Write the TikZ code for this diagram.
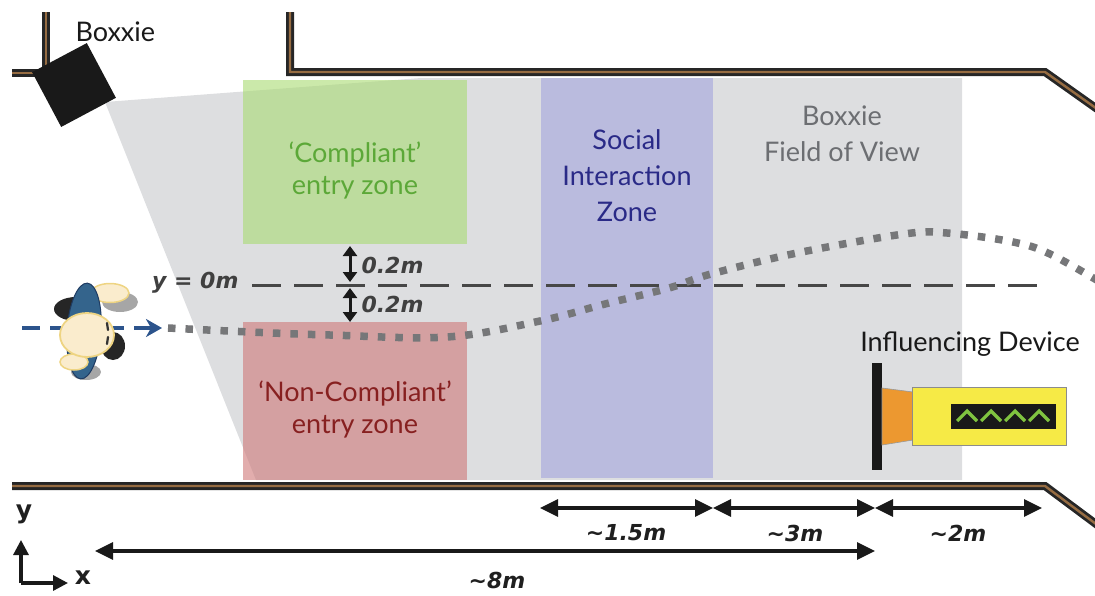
\documentclass[tikz,border=0pt]{standalone}
\usepackage{fontspec}
\setmainfont{Lato}
\newfontfamily\dimfont{DejaVu Sans}
\usetikzlibrary{arrows.meta}
\definecolor{fovgray}{RGB}{221,222,224}
\definecolor{wallbrown}{RGB}{150,108,66}
\definecolor{zgreen}{RGB}{169,219,114}
\definecolor{zpink}{RGB}{206,119,119}
\definecolor{zblue}{RGB}{163,164,221}
\definecolor{tgreen}{RGB}{92,168,56}
\definecolor{tred}{RGB}{135,32,32}
\definecolor{tblue}{RGB}{42,42,135}
\definecolor{tgray}{RGB}{108,110,114}
\definecolor{pathgray}{RGB}{118,119,121}
\definecolor{walkblue}{RGB}{44,84,140}
\definecolor{bodyblue}{RGB}{52,100,140}
\definecolor{skin}{RGB}{250,236,205}
\definecolor{skinedge}{RGB}{238,212,130}
\definecolor{devyellow}{RGB}{246,234,70}
\definecolor{devorange}{RGB}{236,152,48}
\definecolor{chevgreen}{RGB}{128,196,64}
\tikzset{
  wall/.style={draw=black!85, line width=2.8pt, double=wallbrown, double distance=2.4pt, line join=miter},
  zone/.style={fill opacity=0.6},
  zonetext/.style={font=\fontsize{27}{32}\selectfont, align=center},
  plain/.style={font=\fontsize{27}{32}\selectfont, text=black!90},
  dimtext/.style={font=\dimfont\fontsize{22}{25}\selectfont\bfseries\itshape, text=black!88},
  dimarrow/.style={line width=3.2pt, black!90, {Triangle[length=18pt,width=17pt]}-{Triangle[length=18pt,width=17pt]}},
  gaparrow/.style={line width=3pt, black!90, {Triangle[length=10pt,width=14pt]}-{Triangle[length=10pt,width=14pt]}},
  axisarrow/.style={line width=3.2pt, black!90, -{Triangle[length=15pt,width=15pt]}},
  axislabel/.style={font=\dimfont\fontsize{25}{28}\selectfont\bfseries, text=black!88},
}
\begin{document}
\begin{tikzpicture}[x=1pt,y=-1pt]
\useasboundingbox (0,0) rectangle (1095,595);

% camera field of view
\fill[fovgray] (105,102) -- (421,78) -- (962,78) -- (962,480) -- (256,480) -- cycle;

% zones
\fill[zgreen, zone] (243,80) rectangle (467,244);
\fill[zpink, zone] (243,322) rectangle (467,480);
\fill[zblue, zone] (541,78) rectangle (713,478);

\node[zonetext, text=tgreen] (compl) at (355,170) {‘Compliant’\\entry zone};
\node[zonetext, text=tred] (noncompl) at (355,409) {‘Non-Compliant’\\entry zone};
\node[zonetext, text=tblue, font=\fontsize{27}{36}\selectfont] (social) at (627,176) {Social\\Interaction\\Zone};
\node[zonetext, text=tgray, font=\fontsize{27}{36}\selectfont] (fov) at (842,134) {Boxxie\\Field of View};

% walls
\draw[wall] (46,12) -- (46,73) -- (12,73);
\draw[wall] (290,12) -- (290,72) -- (1045,72) -- (1100,111);
\draw[wall] (12,486) -- (1045,486) -- (1100,527);

% camera
\node[fill=black!90, minimum size=62pt, rotate=28, inner sep=0pt] (cam) at (74,85) {};
\node[plain, anchor=west] (camlabel) at (72,32) {Boxxie};

% reference line y = 0
\coordinate (zl) at (252,285);
\coordinate (zr) at (1040,285);
\draw[black!72, line width=3pt, dash pattern=on 29pt off 13pt] (zl) -- (zr);
\node[dimtext, text=black!75, anchor=east] (ylab) at (242,283) {y = 0m};

% offsets of the entry zones
\coordinate (ga) at (350,246);
\coordinate (gb) at (350,282);
\coordinate (gc) at (350,288);
\coordinate (gd) at (350,322);
\draw[gaparrow] (ga) -- (gb);
\draw[gaparrow] (gc) -- (gd);
\node[dimtext, text=black!75, anchor=west] (off1) at (358,265) {0.2m};
\node[dimtext, text=black!75, anchor=west] (off2) at (358,304) {0.2m};

% walking path
\draw[pathgray, line width=7.5pt, dash pattern=on 7.5pt off 10pt]
  plot[smooth, tension=0.6] coordinates {(168,328) (250,332) (330,335) (447,337) (540,321) (605,304) (669,288) (711,274) (797,253) (904,234) (947,233) (1013,242) (1050,254) (1100,282)};

% person seen from above
\fill[black!85] (76,309) ellipse[x radius=22pt, y radius=12pt];
\fill[black!35] (120,302) ellipse[x radius=18pt, y radius=10pt];
\filldraw[fill=skin, draw=skinedge, line width=1.5pt] (110,293) ellipse[x radius=19pt, y radius=9.5pt];
\fill[black!85] (113,346) ellipse[x radius=12pt, y radius=14pt];
\fill[black!35] (86,372) ellipse[x radius=15pt, y radius=8pt];
\filldraw[fill=bodyblue, draw=walkblue!70!black, line width=1pt, rotate around={-4:(84,331)}] (84,331) ellipse[x radius=17pt, y radius=48pt];
\filldraw[fill=skin, draw=skinedge, line width=1.5pt] (74,362) ellipse[x radius=14pt, y radius=8pt];
\coordinate (ws) at (22,328);
\coordinate (we) at (162,328);
\draw[walkblue, line width=4.5pt, dash pattern=on 18pt off 10pt, -{Stealth[length=16pt,width=18pt,inset=5pt]}] (ws) -- (we);
\filldraw[fill=skin, draw=skinedge, line width=1.8pt] (87,335) ellipse[x radius=27pt, y radius=22pt];
\draw[black!80, line width=2.2pt, line cap=round] (107,323) -- (108,330);
\draw[black!80, line width=2.2pt, line cap=round] (108,337) -- (107,344);

% influencing device
\node[plain, anchor=base] (devlabel) at (970,351) {Influencing Device};
\fill[black!90] (872,363) rectangle (882,470);
\filldraw[fill=devorange, draw=black!40, line width=0.6pt] (882,388) -- (913,392) -- (913,440) -- (882,445) -- cycle;
\filldraw[fill=devyellow, draw=black!45, line width=0.8pt] (912,387) rectangle (1066,445);
\fill[black!90] (951,404) rectangle (1056,429);
\foreach \cx in {967,991,1015,1039}
  \draw[chevgreen, line width=3.2pt] (\cx-10,421) -- (\cx,411) -- (\cx+10,421);

% distances along the corridor
\coordinate (d0) at (540,508);
\coordinate (d1) at (713,508);
\coordinate (d2) at (875,508);
\coordinate (d3) at (1042,508);
\draw[dimarrow] (d0) -- (d1);
\draw[dimarrow] (d1) -- (d2);
\draw[dimarrow] (d2) -- (d3);
\node[dimtext] (dl1) at (626,533) {\textasciitilde1.5m};
\node[dimtext] (dl2) at (795,533) {\textasciitilde3m};
\node[dimtext] (dl3) at (958,533) {\textasciitilde2m};
\coordinate (e0) at (95,551);
\coordinate (e1) at (875,551);
\draw[dimarrow] (e0) -- (e1);
\node[dimtext] (el) at (497,580) {\textasciitilde8m};

% axes
\coordinate (ax0) at (21,583);
\coordinate (axy) at (21,540);
\coordinate (axx) at (68,583);
\draw[axisarrow] (ax0) -- (axy);
\draw[axisarrow] (ax0) -- (axx);
\node[axislabel] (ylabel) at (24,514) {y};
\node[axislabel] (xlabel) at (83,578) {x};
\end{tikzpicture}
\end{document}
